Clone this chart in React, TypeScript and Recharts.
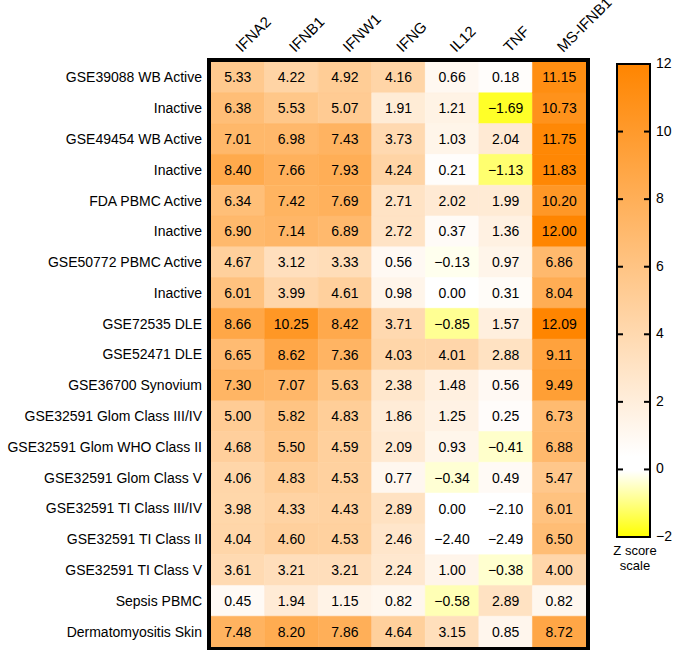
import React from 'react';
import { BarChart, Bar, XAxis, YAxis, Cell, LabelList, CartesianGrid } from 'recharts';

const genes = ['IFNA2', 'IFNB1', 'IFNW1', 'IFNG', 'IL12', 'TNF', 'MS-IFNB1'];

const samples = [
  'GSE39088 WB Active',
  'Inactive',
  'GSE49454 WB Active',
  'Inactive',
  'FDA PBMC Active',
  'Inactive',
  'GSE50772 PBMC Active',
  'Inactive',
  'GSE72535 DLE',
  'GSE52471 DLE',
  'GSE36700 Synovium',
  'GSE32591 Glom Class III/IV',
  'GSE32591 Glom WHO Class II',
  'GSE32591 Glom Class V',
  'GSE32591 TI Class III/IV',
  'GSE32591 TI Class II',
  'GSE32591 TI Class V',
  'Sepsis PBMC',
  'Dermatomyositis Skin',
];

const IFNA2 = [5.33, 6.38, 7.01, 8.40, 6.34, 6.90, 4.67, 6.01, 8.66, 6.65, 7.30, 5.00, 4.68, 4.06, 3.98, 4.04, 3.61, 0.45, 7.48];
const IFNB1 = [4.22, 5.53, 6.98, 7.66, 7.42, 7.14, 3.12, 3.99, 10.25, 8.62, 7.07, 5.82, 5.50, 4.83, 4.33, 4.60, 3.21, 1.94, 8.20];
const IFNW1 = [4.92, 5.07, 7.43, 7.93, 7.69, 6.89, 3.33, 4.61, 8.42, 7.36, 5.63, 4.83, 4.59, 4.53, 4.43, 4.53, 3.21, 1.15, 7.86];
const IFNG = [4.16, 1.91, 3.73, 4.24, 2.71, 2.72, 0.56, 0.98, 3.71, 4.03, 2.38, 1.86, 2.09, 0.77, 2.89, 2.46, 2.24, 0.82, 4.64];
const IL12 = [0.66, 1.21, 1.03, 0.21, 2.02, 0.37, -0.13, 0.00, -0.85, 4.01, 1.48, 1.25, 0.93, -0.34, 0.00, -2.40, 1.00, -0.58, 3.15];
const TNF = [0.18, -1.69, 2.04, -1.13, 1.99, 1.36, 0.97, 0.31, 1.57, 2.88, 0.56, 0.25, -0.41, 0.49, -2.10, -2.49, -0.38, 2.89, 0.85];
const MS_IFNB1 = [11.15, 10.73, 11.75, 11.83, 10.20, 12.00, 6.86, 8.04, 12.09, 9.11, 9.49, 6.73, 6.88, 5.47, 6.01, 6.50, 4.00, 0.82, 8.72];

const seriesValues = [IFNA2, IFNB1, IFNW1, IFNG, IL12, TNF, MS_IFNB1];

const scaleTicks = [-2, 0, 2, 4, 6, 8, 10, 12];
const scaleTitle = ['Z score', 'scale'];

const rows = samples.map((name, i) => {
  const row: any = { name, id: i };
  genes.forEach((g, j) => {
    row[g] = seriesValues[j][i];
  });
  return row;
});

const FONT = 'Liberation Sans, Arial, Helvetica, sans-serif';
const ORANGE = [255, 133, 0];

function colorFor(v: number): string {
  if (v < -2) return 'rgb(255,255,255)';
  if (v < 0) {
    const t = Math.min(-v / 2, 1);
    return `rgb(255,255,${Math.round(255 - 255 * t)})`;
  }
  const t = Math.min(v / 12, 1);
  const r = Math.round(255 + (ORANGE[0] - 255) * t);
  const g = Math.round(255 + (ORANGE[1] - 255) * t);
  const b = Math.round(255 + (ORANGE[2] - 255) * t);
  return `rgb(${r},${g},${b})`;
}

function fmt(v: any): string {
  const n = Number(v);
  if (n < 0) return '\u2212' + Math.abs(n).toFixed(2);
  return n.toFixed(2);
}

const HeaderTick = (props: any) => {
  const { x, y, payload } = props;
  const idx = Math.round(payload.value - 0.5);
  return (
    <text
      transform={`translate(${x + 4},${y}) rotate(-45)`}
      textAnchor="start"
      style={{ fontSize: 15, fontFamily: FONT, fill: '#000' }}
    >
      {genes[idx]}
    </text>
  );
};

const ScaleTick = (props: any) => {
  const { y, payload } = props;
  const label = payload.value < 0 ? '\u2212' + Math.abs(payload.value) : String(payload.value);
  return (
    <g>
      <line x1={17} x2={23} y1={y} y2={y} stroke="#000" strokeWidth={2} />
      <line x1={44} x2={50} y1={y} y2={y} stroke="#000" strokeWidth={2} />
      <text x={56} y={y} dy={4} textAnchor="start" style={{ fontSize: 14, fontFamily: FONT, fill: '#000' }}>
        {label}
      </text>
    </g>
  );
};

const scaleData = [{ name: 'z', range: [scaleTicks[0], scaleTicks[scaleTicks.length - 1]] }];

export default function App() {
  return (
    <div style={{ position: 'absolute', left: 0, top: 0, width: 675, height: 650, background: '#fff', overflow: 'hidden' }}>
      <div style={{ position: 'absolute', left: 0, top: 0 }}>
        <BarChart
          width={675}
          height={650}
          data={rows}
          layout="vertical"
          barCategoryGap={0}
          barGap={0}
          margin={{ top: 32, right: 89, bottom: 3, left: 0 }}
          style={{ overflow: 'visible' }}
        >
          <XAxis
            type="number"
            orientation="top"
            domain={[0, genes.length]}
            ticks={genes.map((_, j) => j + 0.5)}
            height={30}
            axisLine={false}
            tickLine={false}
            tickSize={0}
            tickMargin={9}
            interval={0}
            tick={<HeaderTick />}
          />
          <YAxis
            type="category"
            dataKey="name"
            width={211}
            axisLine={false}
            tickLine={false}
            tickSize={0}
            tickMargin={9}
            interval={0}
            tick={{ fontSize: 14, fontFamily: FONT, fill: '#000' }}
          />
          {genes.map((g) => (
            <Bar key={g} dataKey={() => 1} name={g} stackId="heat" isAnimationActive={false}>
              {rows.map((r, i) => (
                <Cell key={i} fill={colorFor(r[g])} stroke={colorFor(r[g])} strokeWidth={0.5} />
              ))}
              <LabelList
                dataKey={g}
                position="center"
                formatter={fmt}
                style={{ fontSize: 14, fontFamily: FONT, fill: '#000' }}
              />
            </Bar>
          ))}
        </BarChart>
      </div>
      <div
        style={{
          position: 'absolute',
          left: 207,
          top: 58,
          width: 383,
          height: 593,
          border: '4px solid #000',
          boxSizing: 'border-box',
          pointerEvents: 'none',
        }}
      />
      <div style={{ position: 'absolute', left: 600, top: 0 }}>
        <BarChart
          width={75}
          height={650}
          data={scaleData}
          barCategoryGap={0}
          margin={{ top: 64, right: 0, bottom: 113, left: 17 }}
          style={{ overflow: 'visible' }}
        >
          <defs>
            <linearGradient id="zgrad" x1="0" y1="0" x2="0" y2="1">
              <stop offset="0%" stopColor="rgb(255,133,0)" />
              <stop offset="83%" stopColor="#ffffff" />
              <stop offset="86%" stopColor="#ffffff" />
              <stop offset="100%" stopColor="#ffff00" />
            </linearGradient>
          </defs>
          <CartesianGrid fill="url(#zgrad)" stroke="transparent" fillOpacity={1} />
          <XAxis dataKey="name" type="category" hide />
          <Bar dataKey="range" fill="none" stroke="#000" strokeWidth={2} isAnimationActive={false} />
          <YAxis
            type="number"
            orientation="right"
            domain={[scaleTicks[0], scaleTicks[scaleTicks.length - 1]]}
            ticks={scaleTicks}
            interval={0}
            width={25}
            axisLine={false}
            tickLine={false}
            tickSize={0}
            tickMargin={6}
            tick={<ScaleTick />}
          />
        </BarChart>
      </div>
      <div
        style={{
          position: 'absolute',
          left: 605,
          top: 543,
          width: 60,
          textAlign: 'center',
          fontFamily: FONT,
          fontSize: 13,
          lineHeight: '15px',
          color: '#000',
        }}
      >
        {scaleTitle.map((t, i) => (
          <div key={i}>{t}</div>
        ))}
      </div>
    </div>
  );
}
